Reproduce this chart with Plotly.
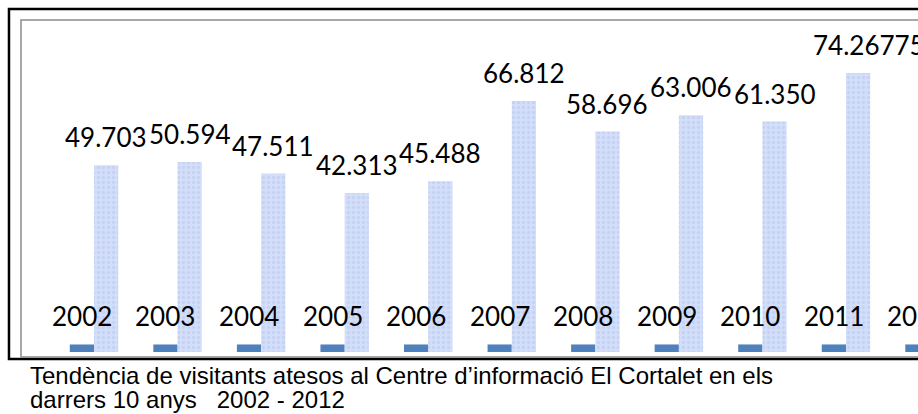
import plotly.graph_objects as go

years = [2002, 2003, 2004, 2005, 2006, 2007, 2008, 2009, 2010, 2011, 2012]
visitors = [49703, 50594, 47511, 42313, 45488, 66812, 58696, 63006, 61350, 74267.75, None]
visitor_labels = ["49.703", "50.594", "47.511", "42.313", "45.488", "66.812",
                  "58.696", "63.006", "61.350", "74.26775", ""]
caption_lines = [
    "Tendència de visitants atesos al Centre d’informació El Cortalet en els",
    "darrers 10 anys\u00a0\u00a0\u00a02002 - 2012",
]

BAR_W = 0.29
LABEL_FONT = dict(family="Lato, sans-serif", size=26, color="#000000")

fig = go.Figure()
# series 1: the year itself (tiny bars on the same axis)
fig.add_trace(go.Bar(
    x=years, y=years, width=BAR_W, offset=-BAR_W,
    marker=dict(color="#4F81BD", line_width=0), hoverinfo="skip",
))
# series 2: visitors, pale textured fill
fig.add_trace(go.Bar(
    x=years, y=visitors, width=BAR_W, offset=0,
    marker=dict(
        color="#CBD9F4", line_width=0,
        pattern=dict(shape=".", fgcolor="#B8C6F0", bgcolor="#D3DEF8", size=5, solidity=0.35),
    ),
    hoverinfo="skip",
))

for yr in years:
    fig.add_annotation(x=yr - BAR_W / 2, y=yr, text=str(yr), showarrow=False,
                       yanchor="bottom", yshift=10, font=LABEL_FONT)
for yr, v, lab in zip(years, visitors, visitor_labels):
    if v is None:
        continue
    # the long last label sits a bit right of centre in the original
    fig.add_annotation(x=yr + BAR_W / 2, y=v, text=lab, showarrow=False,
                       yanchor="bottom", yshift=10, xshift=11 if len(lab) > 6 else 0,
                       font=LABEL_FONT)

# caption under the chart box
for i, line in enumerate(caption_lines):
    fig.add_annotation(xref="paper", yref="paper", x=0.008, y=-0.0693 - 0.0723 * i,
                       xanchor="left", yanchor="middle", text=line, showarrow=False,
                       font=dict(family="Liberation Sans, Arial, sans-serif", size=24, color="#000000"))

# outer black frame and inner grey frame (right side runs off the picture)
fig.add_shape(type="rect", xref="paper", yref="paper", x0=-0.0134, x1=1.05, y0=-0.0211, y1=1.0331,
              line=dict(color="#000000", width=2.5), layer="below")
fig.add_shape(type="rect", xref="paper", yref="paper", x0=0, x1=1.05, y0=-0.015, y1=1.0,
              line=dict(color="#8C8C8C", width=1.5), layer="below")

fig.update_layout(
    width=918, height=414,
    margin=dict(l=21, r=0, t=20, b=62),
    paper_bgcolor="white", plot_bgcolor="white",
    showlegend=False, barmode="overlay",
    xaxis=dict(range=[2001.126, 2011.862], visible=False, showgrid=False, zeroline=False),
    yaxis=dict(range=[0, 88400], visible=False, showgrid=False, zeroline=False),
)

# drop the default 8px body margin so the figure fills the window
fig.write_html("out.html", config={"displayModeBar": False},
               post_script="document.body.style.margin='0';")
